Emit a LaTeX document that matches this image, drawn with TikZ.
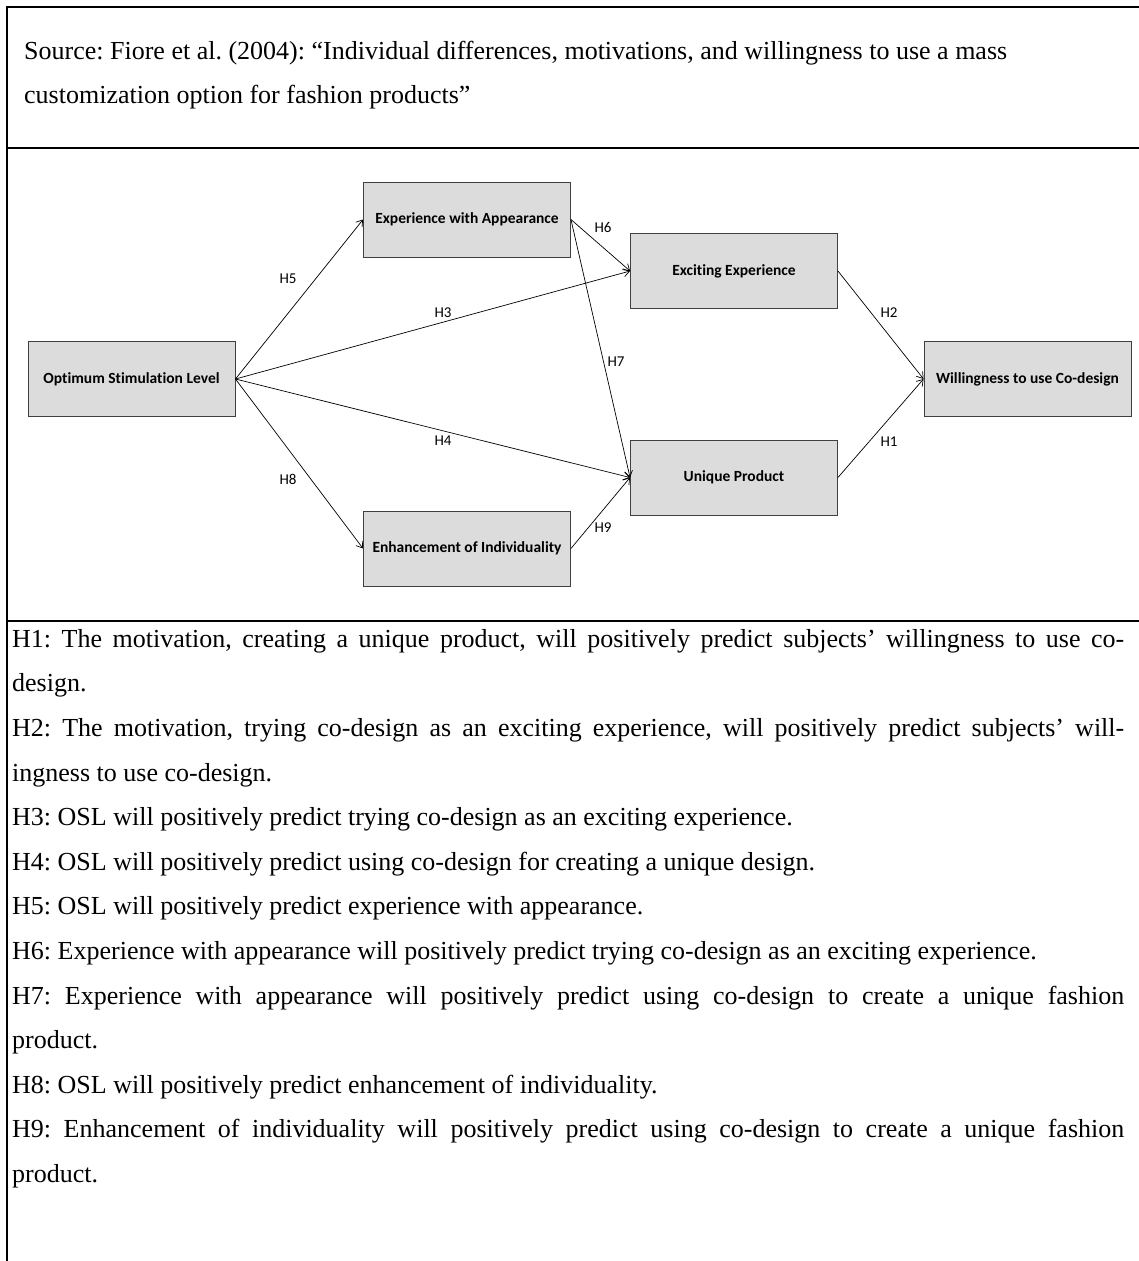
\documentclass[tikz,border=0pt]{standalone}
\usepackage{fontspec}
\setmainfont{Liberation Serif}
\newfontfamily\diagfont[Ligatures=NoCommon]{Carlito}
\usetikzlibrary{arrows.meta}

\definecolor{boxfill}{RGB}{220,220,220}
\definecolor{boxline}{RGB}{64,64,64}

% one justified line of the hypothesis list
\newcommand\jline[1]{\makebox[1112pt][s]{#1}}

\begin{document}
\frenchspacing
\begin{tikzpicture}[x=1pt,y=-1pt,
  construct/.style={draw=boxline, fill=boxfill, line width=0.9pt,
    minimum width=207pt, minimum height=75pt, inner sep=0pt,
    font=\diagfont\bfseries\fontsize{15.5}{18}\selectfont},
  path link/.style={draw=black, line width=0.7pt,
    -{Straight Barb[length=6pt,width=8pt]}},
  hlabel/.style={font=\diagfont\fontsize{15}{18}\selectfont, inner sep=0pt},
  rule/.style={line width=2pt, black},
  txt/.style={anchor=mid west, inner sep=0pt, font=\fontsize{26}{30}\selectfont}
]
\useasboundingbox (0,0) rectangle (1139,1261);

% table frame
\draw[rule] (7,1261) -- (7,7) -- (1139,7);
\draw[rule] (7,148) -- (1139,148);
\draw[rule] (7,621) -- (1139,621);

% source line
\node[txt] (src1) at (24,57) {Source: Fiore et al. (2004): “Individual differences, motivations, and willingness to use a mass};
\node[txt] (src2) at (24,101) {customization option for fashion products”};

% constructs
\node[construct] (osl)  at (131.5,379)  {Optimum Stimulation Level};
\node[construct] (ewa)  at (467,219.5)  {Experience with Appearance};
\node[construct] (eoi)  at (467,548.5)  {Enhancement of Individuality};
\node[construct] (exc)  at (734,271)    {Exciting Experience};
\node[construct] (uniq) at (734,477.5)  {Unique Product};
\node[construct] (will) at (1027.5,379) {Willingness to use Co-design};

% hypothesised paths
\draw[path link] (osl.east) -- (ewa.west);
\draw[path link] (osl.east) -- (exc.west);
\draw[path link] (osl.east) -- (uniq.west);
\draw[path link] (osl.east) -- (eoi.west);
\draw[path link] (ewa.east) -- (exc.west);
\draw[path link] (ewa.east) -- (uniq.west);
\draw[path link] (eoi.east) -- (uniq.west);
\draw[path link] (exc.east) -- (will.west);
\draw[path link] (uniq.east) -- (will.west);

% path labels
\node[hlabel] (l5) at (288,279) {H5};
\node[hlabel] (l3) at (443,313) {H3};
\node[hlabel] (l6) at (603,227) {H6};
\node[hlabel] (l7) at (616,362) {H7};
\node[hlabel] (l4) at (443,441) {H4};
\node[hlabel] (l8) at (288,479) {H8};
\node[hlabel] (l9) at (603,528) {H9};
\node[hlabel] (l2) at (889,313) {H2};
\node[hlabel] (l1) at (889,442) {H1};

% hypotheses
\node[txt] (t1)  at (12,645)    {\jline{H1: The motivation, creating a unique product, will positively predict subjects’ willingness to use co-}};
\node[txt] (t2)  at (12,689.6)  {design.};
\node[txt] (t3)  at (12,734.2)  {\jline{H2: The motivation, trying co-design as an exciting experience, will positively predict subjects’ will-}};
\node[txt] (t4)  at (12,778.8)  {ingness to use co-design.};
\node[txt] (t5)  at (12,823.4)  {H3: OSL will positively predict trying co-design as an exciting experience.};
\node[txt] (t6)  at (12,868)    {H4: OSL will positively predict using co-design for creating a unique design.};
\node[txt] (t7)  at (12,912.6)  {H5: OSL will positively predict experience with appearance.};
\node[txt] (t8)  at (12,957.2)  {H6: Experience with appearance will positively predict trying co-design as an exciting experience.};
\node[txt] (t9)  at (12,1001.8) {\jline{H7: Experience with appearance will positively predict using co-design to create a unique fashion}};
\node[txt] (t10) at (12,1046.4) {product.};
\node[txt] (t11) at (12,1091)   {H8: OSL will positively predict enhancement of individuality.};
\node[txt] (t12) at (12,1135.6) {\jline{H9: Enhancement of individuality will positively predict using co-design to create a unique fashion}};
\node[txt] (t13) at (12,1180.2) {product.};
\end{tikzpicture}
\end{document}
